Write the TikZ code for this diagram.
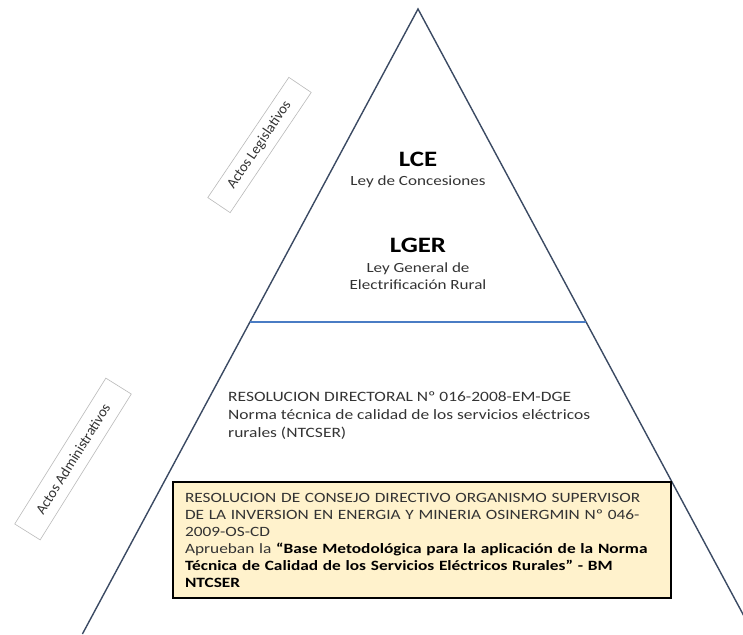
\documentclass[tikz,border=0pt]{standalone}
\usepackage{fontspec}
\setmainfont{Carlito}[FakeStretch=1.22]
\newfontfamily\labelfont{Carlito}
\begin{document}
\begin{tikzpicture}[x=1pt,y=-1pt]
\definecolor{tri}{HTML}{3B4A63}
\definecolor{sep}{HTML}{4A7CC4}
\definecolor{boxfill}{HTML}{FFF2CC}
\definecolor{txt}{HTML}{333333}
\tikzset{
  side/.style={draw=tri, line width=1.4pt},
  layerline/.style={draw=sep, line width=1.6pt},
  actlabel/.style={draw=gray!55, fill=white, line width=0.6pt, text=txt,
    font=\labelfont\fontsize{14.5}{17}\selectfont, inner sep=0pt},
  title/.style={font=\bfseries\fontsize{22}{26}\selectfont, text=black, inner sep=0pt},
  sub/.style={font=\fontsize{14}{16.5}\selectfont, text=txt, align=center, inner sep=0pt},
  resol/.style={font=\fontsize{14.3}{18}\selectfont, text=txt, align=left,
    anchor=north west, inner sep=0pt},
  notebox/.style={draw=black, line width=2pt, fill=boxfill, anchor=north west,
    minimum width=496pt, minimum height=116pt, text width=474pt, align=left,
    inner xsep=12pt, inner ysep=0pt, text=txt, font=\fontsize{14.2}{17}\selectfont}
}
\useasboundingbox (0,0) rectangle (743,634);
\clip (0,0) rectangle (743,634);
% pyramid
\coordinate (apex) at (418,9);
\coordinate (bl) at (82.4,634);
\coordinate (br) at (753.6,634);
\coordinate (sl) at (249.9,322);
\coordinate (sr) at (586.1,322);
\draw[side] (bl) -- (apex) -- (br);
\draw[layerline] (sl) -- (sr);
% top layer texts
\node[title] (lce) at (418,159) {LCE};
\node[sub] (lcesub) at (418,182) {Ley de Concesiones};
\node[title] (lger) at (418,245) {LGER};
\node[sub] (lgersub) at (418,276) {Ley General de\\Electrificación Rural};
% middle text
\node[resol] (rd) at (228,392) {RESOLUCION DIRECTORAL Nº 016-2008-EM-DGE\\
Norma técnica de calidad de los servicios eléctricos\\rurales (NTCSER)};
% box
\node[notebox] (osi) at (172,481) {RESOLUCION DE CONSEJO DIRECTIVO ORGANISMO SUPERVISOR\\
DE LA INVERSION EN ENERGIA Y MINERIA OSINERGMIN Nº 046-\\
2009-OS-CD\\
Aprueban la {\color{black}\bfseries “Base Metodológica para la aplicación de la Norma}\\
{\color{black}\bfseries Técnica de Calidad de los Servicios Eléctricos Rurales” - BM}\\
{\color{black}\bfseries NTCSER}};
% side labels
\node[actlabel, rotate=56, minimum width=145pt, minimum height=27pt] (leg) at (259.5,145) {Actos Legislativos};
\node[actlabel, rotate=58, minimum width=172pt, minimum height=30pt] (adm) at (73,459) {Actos Administrativos};
\end{tikzpicture}
\end{document}
